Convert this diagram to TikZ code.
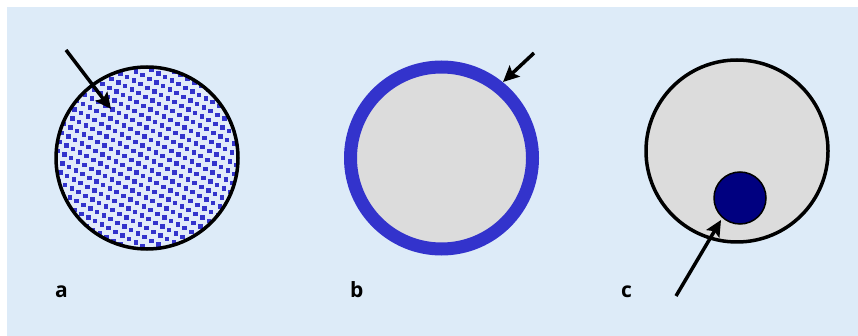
\documentclass[tikz,border=0pt]{standalone}
\usepackage{fontspec}
\setmainfont{Open Sans}
\usetikzlibrary{arrows.meta}
\definecolor{bgblue}{HTML}{DDEBF8}
\definecolor{ringblue}{HTML}{3333CC}
\definecolor{dotbg}{HTML}{E2EBFA}
\definecolor{cellgray}{HTML}{DCDCDC}
\definecolor{corenavy}{HTML}{000080}
\tikzset{
  cell/.style={circle,draw,line width=3.5pt,minimum size=182pt,inner sep=0pt},
  dotted cell/.style={cell,fill=dotbg,path picture={
      \foreach \i in {-18,...,18}
        \foreach \j in {-18,...,18}
          \fill[ringblue,shift={(path picture bounding box.center)}]
            (\i*6.8-\j*2-2.2,\i*3.6+\j*9-2.2) rectangle ++(4.5,4.5);}},
  ring cell/.style={circle,draw=ringblue,fill=cellgray,line width=13pt,minimum size=182pt,inner sep=0pt},
  core/.style={circle,draw,line width=1.5pt,fill=corenavy,minimum size=52pt,inner sep=0pt},
  pointer/.style={-{Stealth[length=16pt,width=15pt,inset=3pt]},line width=3.5pt},
  panel label/.style={font=\bfseries\fontsize{21}{21}\selectfont,anchor=base west,inner sep=0pt},
}
\begin{document}
\begin{tikzpicture}[x=1pt,y=-1pt]
  \useasboundingbox (0,0) rectangle (858,336);
  \fill[bgblue] (7,7) rectangle (858,336);
  % panel a
  \node[dotted cell] (cellA) at (147,158) {};
  \coordinate (tailA) at (66,50);
  \coordinate (tipA) at (111,109);
  \draw[pointer] (tailA) -- (tipA);
  \node[panel label] (lblA) at (55,298) {a};
  % panel b
  \node[ring cell] (cellB) at (441.5,158) {};
  \coordinate (tailB) at (534,53);
  \coordinate (tipB) at (503,82);
  \draw[pointer] (tailB) -- (tipB);
  \node[panel label] (lblB) at (350,298) {b};
  % panel c
  \node[cell,fill=cellgray] (cellC) at (737,151) {};
  \node[core] (coreC) at (740,198) {};
  \coordinate (tailC) at (676,296);
  \coordinate (tipC) at (721,220);
  \draw[pointer] (tailC) -- (tipC);
  \node[panel label] (lblC) at (621,298) {c};
\end{tikzpicture}
\end{document}
